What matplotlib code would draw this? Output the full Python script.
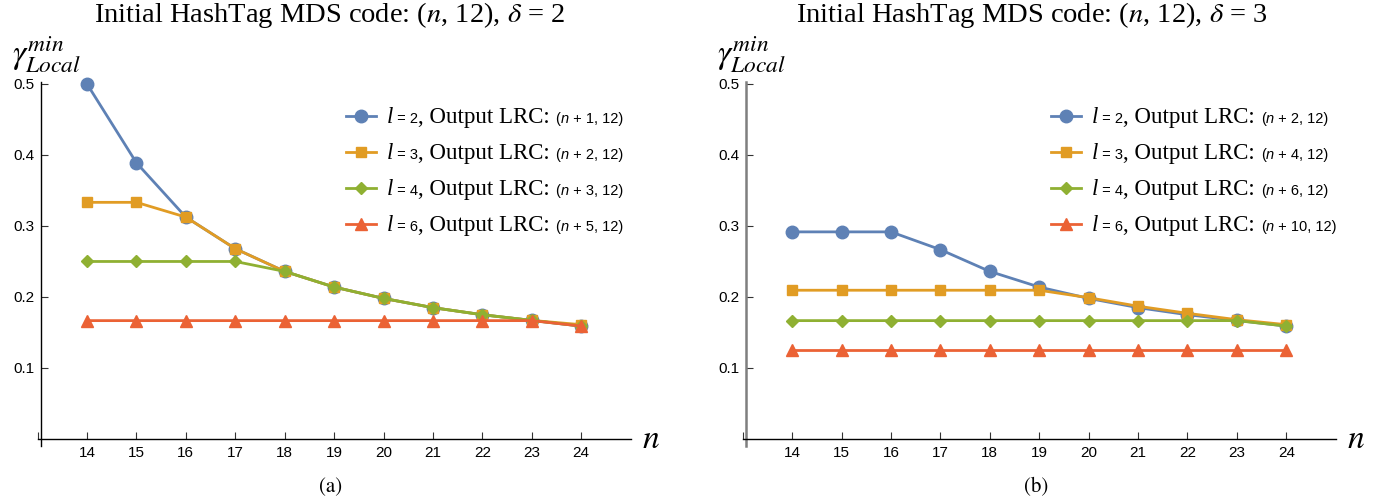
import numpy as np
import matplotlib.pyplot as plt
from matplotlib.lines import Line2D
from matplotlib.offsetbox import TextArea, HPacker, VPacker, DrawingArea, AnchoredOffsetbox

plt.rcParams['mathtext.fontset'] = 'stix'

W, H = 1386, 499

n = [14, 15, 16, 17, 18, 19, 20, 21, 22, 23, 24]

# panel (a), delta = 2
a_l2 = [0.5, 0.389, 0.3125, 0.268, 0.236, 0.214, 0.198, 0.185, 0.175, 0.167, 0.159]
a_l3 = [0.3333, 0.3333, 0.3125, 0.268, 0.236, 0.214, 0.198, 0.185, 0.175, 0.167, 0.161]
a_l4 = [0.25, 0.25, 0.25, 0.25, 0.236, 0.214, 0.198, 0.185, 0.175, 0.167, 0.159]
a_l6 = [0.1667, 0.1667, 0.1667, 0.1667, 0.1667, 0.1667, 0.1667, 0.1667, 0.1667, 0.1667, 0.159]
a_lrc = ['1', '2', '3', '5']

# panel (b), delta = 3
b_l2 = [0.2917, 0.2917, 0.2917, 0.2667, 0.236, 0.214, 0.198, 0.185, 0.175, 0.167, 0.159]
b_l3 = [0.2095, 0.2095, 0.2095, 0.2095, 0.2095, 0.2095, 0.199, 0.187, 0.177, 0.168, 0.161]
b_l4 = [0.1667, 0.1667, 0.1667, 0.1667, 0.1667, 0.1667, 0.1667, 0.1667, 0.1667, 0.1667, 0.159]
b_l6 = [0.125, 0.125, 0.125, 0.125, 0.125, 0.125, 0.125, 0.125, 0.125, 0.125, 0.125]
b_lrc = ['2', '4', '6', '10']

l_vals = ['2', '3', '4', '6']
colors = ['#5E81B5', '#E19C24', '#8FB032', '#EB6235']
markers = [('o', 9), ('s', 7), ('D', 6), ('^', 8)]

serif = 'Liberation Serif'
sans = 'Liberation Sans'

fig = plt.figure(figsize=(W / 100, H / 100), dpi=100)


def px_axes(left, top, w, h):
    return fig.add_axes([left / W, 1 - (top + h) / H, w / W, h / H])


def legend_box(lrc, x, y):
    rows = []
    for c, (m, ms), lv, k in zip(colors, markers, l_vals, lrc):
        da = DrawingArea(22, 10, 0, 1)
        da.add_artist(Line2D([0, 22], [5, 5], color=c, lw=2))
        da.add_artist(Line2D([11], [5], color=c, marker=m, ms=ms, ls='none'))
        parts = [
            da,
            TextArea('   ', textprops=dict(family=serif, size=10)),
            TextArea('l', textprops=dict(family=serif, style='italic', size=16.5)),
            TextArea(' = ' + lv, textprops=dict(family=sans, size=10.5)),
            TextArea(', Output LRC: ', textprops=dict(family=serif, size=16.5)),
            TextArea('(', textprops=dict(family=sans, size=10.5)),
            TextArea('n', textprops=dict(family=sans, style='italic', size=10.5)),
            TextArea(' + ' + k + ', 12)', textprops=dict(family=sans, size=10.5)),
        ]
        rows.append(HPacker(children=parts, align='baseline', pad=0, sep=0))
    vp = VPacker(children=rows, align='left', pad=0, sep=10.8)
    box = AnchoredOffsetbox(loc='upper left', child=vp, pad=0, borderpad=0, frameon=False,
                            bbox_to_anchor=(x / W, 1 - y / H), bbox_transform=fig.transFigure)
    fig.add_artist(box)


def panel(left, series, lrc, delta, yaxis_color, yaxis_lw, cap, title_x):
    ax = px_axes(left, 82, 593, 364)
    for vals, c, (m, ms) in zip(series, colors, markers):
        ax.plot(n, vals, color=c, lw=2, marker=m, ms=ms, clip_on=False)
    ax.set_xlim(13, 25)
    ax.set_ylim(-0.0099, 0.5028)
    for s in ['top', 'right']:
        ax.spines[s].set_visible(False)
    ax.spines['left'].set_position(('data', 13.07))
    ax.spines['bottom'].set_position(('data', 0))
    ax.spines['left'].set_color(yaxis_color)
    ax.spines['left'].set_linewidth(yaxis_lw)
    ax.spines['bottom'].set_linewidth(1)
    ax.set_xticks([13] + n)
    ax.set_xticklabels([''] + [str(v) for v in n])
    ax.set_yticks([0.1, 0.2, 0.3, 0.4, 0.5])
    ax.set_yticklabels(['0.1', '0.2', '0.3', '0.4', '0.5'])
    ax.tick_params(direction='in', length=5, width=0.8, color='#333333', labelsize=11, pad=5)
    for lab in ax.get_xticklabels() + ax.get_yticklabels():
        lab.set_family(sans)
    ax.patch.set_alpha(0)

    fig.text(title_x / W, 1 - 15 / H, 'Initial HashTag MDS code: ($n$, 12), $\\delta$ = ' + delta,
             family=serif, size=20.5, ha='center', va='center')
    fig.text((left - 26) / W, 1 - 64 / H, r'$\gamma_{Local}^{min}$', size=24, ha='left', va='baseline')
    fig.text((left + 604) / W, 1 - 439 / H, r'$n$', size=24, ha='left', va='center')
    fig.text((left + 293) / W, 1 - 487 / H, cap, family='STIXGeneral', size=15, ha='center', va='center')
    legend_box(lrc, left + 308, 107)


panel(37.6, [a_l2, a_l3, a_l4, a_l6], a_lrc, '2', 'black', 1.0, '(a)', 330)
panel(742.7, [b_l2, b_l3, b_l4, b_l6], b_lrc, '3', '#7f7f7f', 1.8, '(b)', 1032)

fig.savefig('out.png', dpi=100)
